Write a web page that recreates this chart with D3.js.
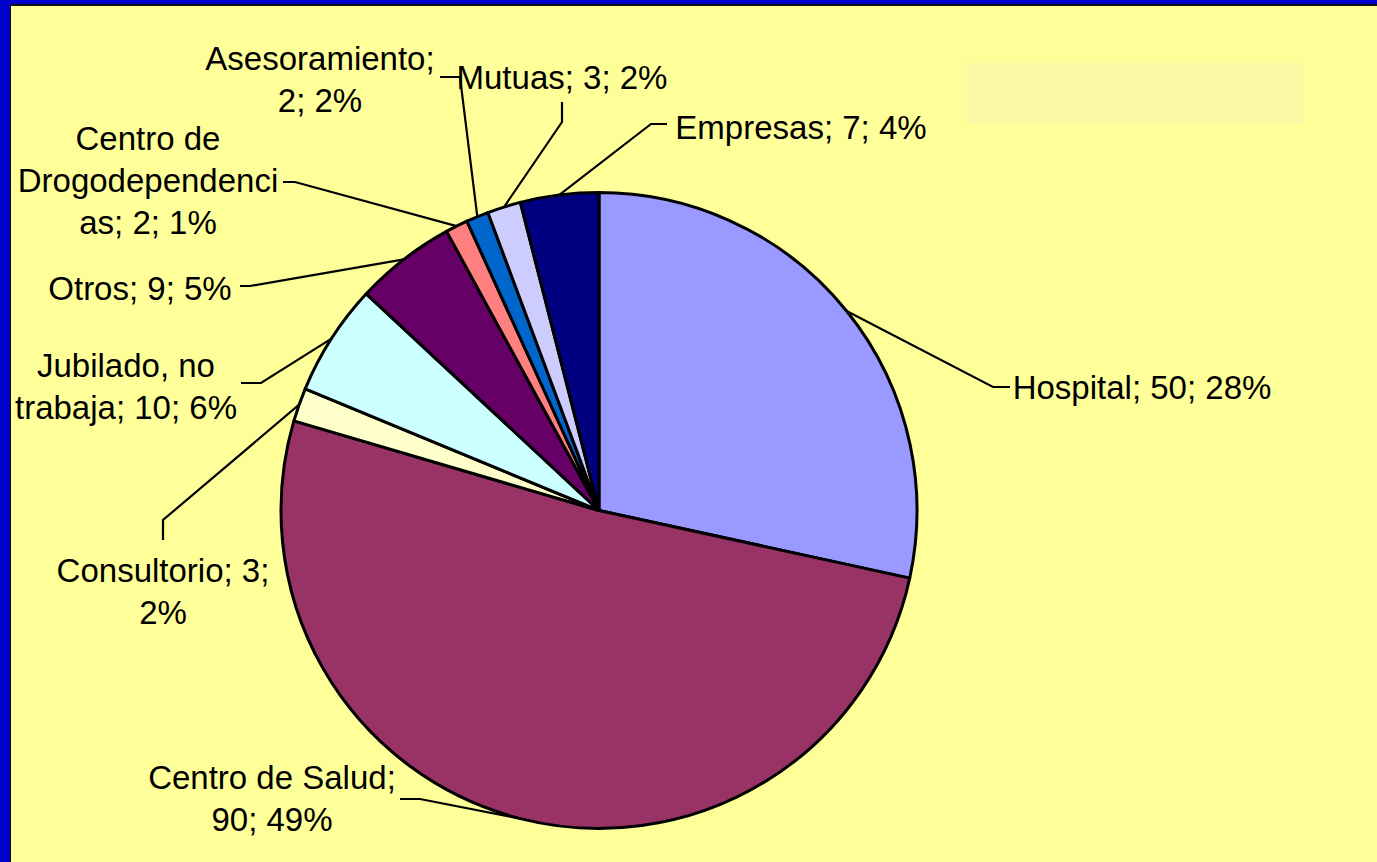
<!DOCTYPE html>
<html>
<head>
<meta charset="utf-8">
<script src="https://cdn.jsdelivr.net/npm/d3@7"></script>
<style>
  body{margin:0;padding:0;overflow:hidden;background:#0000cc;}
  text{font-family:"Liberation Sans",Arial,sans-serif;}
</style>
</head>
<body>
<svg></svg>
<script>
// data, clockwise from 12 o'clock
var categories=["Hospital","Centro de Salud","Consultorio","Jubilado, no trabaja","Otros",
                "Centro de Drogodependencias","Asesoramiento","Mutuas","Empresas"];
var values=[50,90,3,10,9,2,2,3,7];
var percents=["28%","49%","2%","6%","5%","1%","2%","2%","4%"];
var colors=["#9999ff","#993366","#ffffcc","#ccffff","#660066","#ff8080","#0066cc","#ccccff","#000080"];

// how each label is broken into lines, as in the picture
var labelLines=[
  ["Hospital; 50; 28%"],
  ["Centro de Salud;","90; 49%"],
  ["Consultorio; 3;","2%"],
  ["Jubilado, no","trabaja; 10; 6%"],
  ["Otros; 9; 5%"],
  ["Centro de","Drogodependenci","as; 2; 1%"],
  ["Asesoramiento;","2; 2%"],
  ["Mutuas; 3; 2%"],
  ["Empresas; 7; 4%"]
];

// label layout: text centre x, first baseline y, leader elbow + end
var layout=[
  {x:1142,y:399,elbow:[993,387],end:[1010,387]},
  {x:272,y:789,elbow:[420,799],end:[400,799]},
  {x:163,y:582,elbow:[163,520],end:[163,540]},
  {x:126,y:377,elbow:[261,383],end:[241,383]},
  {x:140,y:300,elbow:[250,286],end:[240,286]},
  {x:148,y:150,elbow:[295,182],end:[283,182]},
  {x:320,y:70,elbow:[460,77],end:[440,77]},
  {x:562,y:89,elbow:[562,122],end:[562,102]},
  {x:801,y:139,elbow:[651,124],end:[667,124]}
];

var scren={width:1377,height:862};
var svg=d3.select("svg")
          .attr("width",scren.width)
          .attr("height",scren.height);

// blue frame + yellow panel
svg.append("rect").attr("x",0).attr("y",0).attr("width",scren.width).attr("height",scren.height)
   .attr("fill","#0000cc");
svg.append("rect").attr("x",10).attr("y",4).attr("width",scren.width-10).attr("height",scren.height-4)
   .attr("fill","#111111");
svg.append("rect").attr("x",11).attr("y",6).attr("width",scren.width-11).attr("height",scren.height-6)
   .attr("fill","#ffff99");

// faint empty box top right
svg.append("rect").attr("x",967).attr("y",63).attr("width",337).attr("height",60)
   .attr("fill","#f9f8a4");

var cx=599, cy=510.5, radius=318;

var data=categories.map(function(c,i){
  return {name:c,value:values[i],pct:percents[i],color:colors[i],lines:labelLines[i],pos:layout[i]};
});

var pie=d3.pie().value(function(d){return d.value;}).sort(null);
var arcs=pie(data);
var arc=d3.arc().innerRadius(0).outerRadius(radius);

var plot=svg.append("g").attr("transform","translate("+cx+","+cy+")");

plot.selectAll("path")
    .data(arcs)
    .enter()
    .append("path")
    .attr("d",arc)
    .attr("fill",function(d){return d.data.color;})
    .attr("stroke","#000")
    .attr("stroke-width",3)
    .attr("stroke-linejoin","round");

// leader lines
svg.selectAll("polyline.leader")
   .data(arcs)
   .enter()
   .append("polyline")
   .classed("leader",true)
   .attr("points",function(d){
     var a=(d.startAngle+d.endAngle)/2;
     var sx=cx+radius*Math.sin(a), sy=cy-radius*Math.cos(a);
     var p=d.data.pos;
     return [[sx,sy],p.elbow,p.end].map(function(q){return q.join(",");}).join(" ");
   })
   .attr("fill","none")
   .attr("stroke","#000")
   .attr("stroke-width",2.2);

// labels
var labels=svg.selectAll("text.lab")
   .data(arcs)
   .enter()
   .append("text")
   .classed("lab",true)
   .attr("text-anchor","middle")
   .attr("font-size",33)
   .attr("fill","#000");

labels.each(function(d){
  var t=d3.select(this);
  d.data.lines.forEach(function(l,i){
    t.append("tspan").attr("x",d.data.pos.x).attr("y",d.data.pos.y+i*42).text(l);
  });
});
</script>
</body>
</html>
